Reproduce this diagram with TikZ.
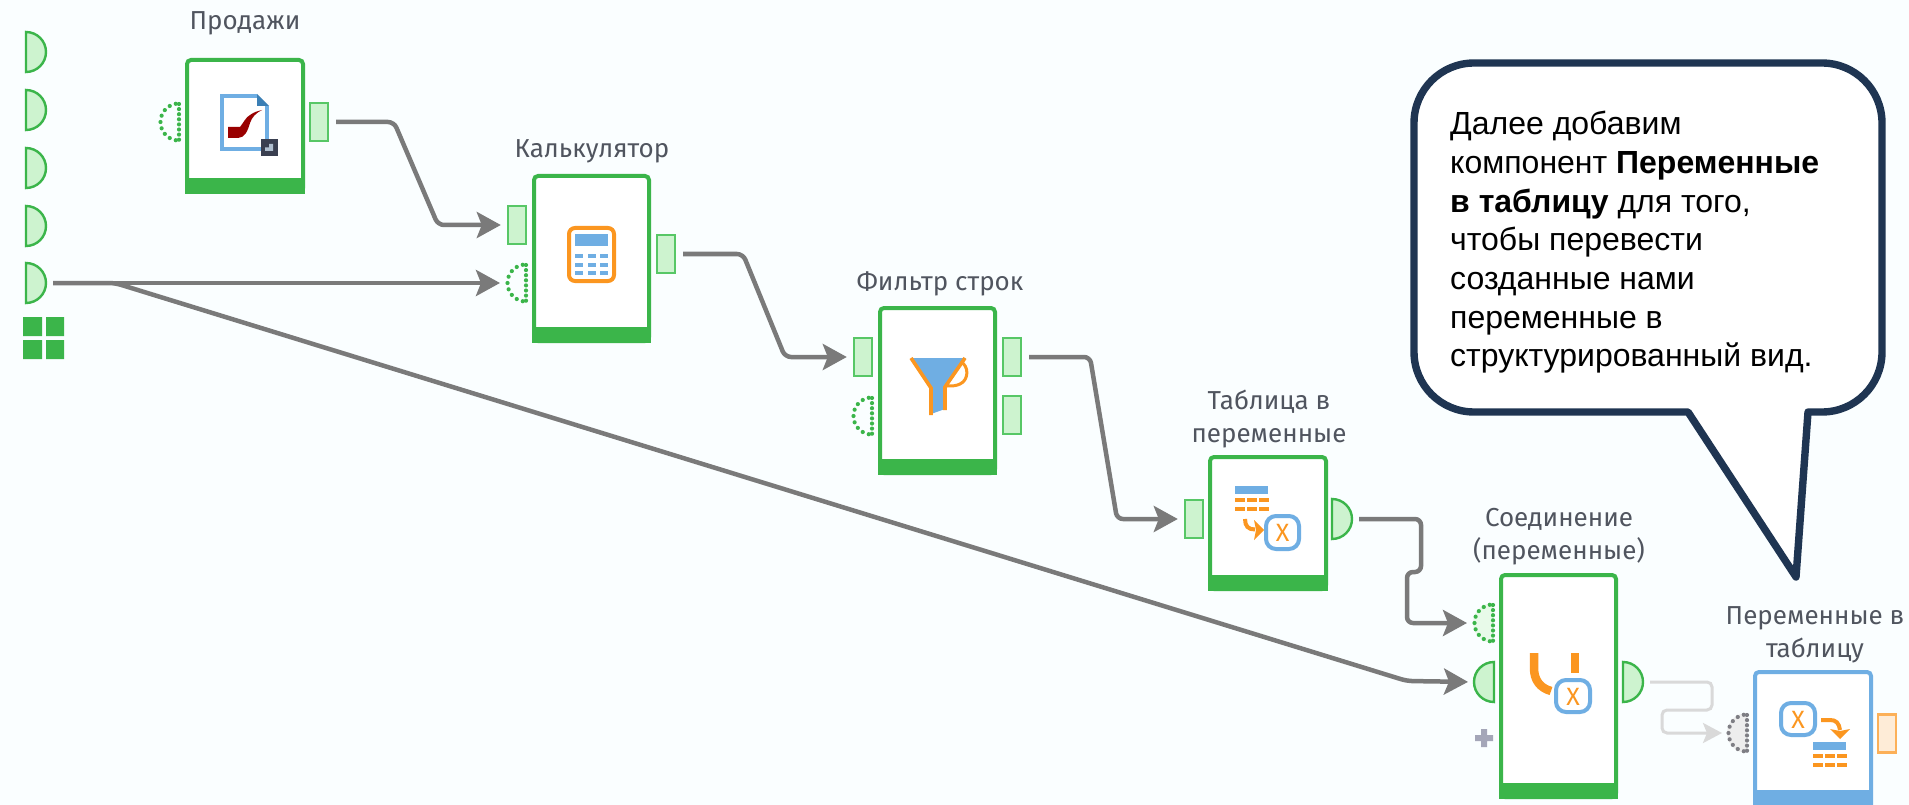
\documentclass[tikz,border=0pt]{standalone}
\usepackage{fontspec}
\setmainfont{Fira Sans}
\newfontfamily\calloutfont{Liberation Sans}
\usetikzlibrary{arrows.meta}
\definecolor{bgc}{HTML}{FAFEFF}
\definecolor{grn}{HTML}{3BB54A}
\definecolor{grnport}{HTML}{57C766}
\definecolor{pale}{HTML}{CDF3CF}
\definecolor{blu}{HTML}{6FAEE3}
\definecolor{org}{HTML}{FB9620}
\definecolor{conc}{HTML}{7A7A7A}
\definecolor{navy}{HTML}{1F3552}
\definecolor{lblc}{HTML}{50555F}
\definecolor{plusc}{HTML}{A4A6B8}
\definecolor{darkicon}{HTML}{3A3F50}
\definecolor{lighticon}{HTML}{B0BFCF}
\definecolor{foldc}{HTML}{3B7FB5}
\definecolor{pipec}{HTML}{990000}
\definecolor{dotgray}{HTML}{7E7E84}
\tikzset{
  x=1pt,y=-1pt,
  portslot/.style={minimum width=20pt,minimum height=40pt,inner sep=0pt,outer sep=0pt},
  rectport/.style={rectangle,draw=grnport,fill=pale,line width=2.4pt,minimum width=18pt,minimum height=38pt,inner sep=0pt,outer sep=1.2pt},
  orangeport/.style={rectport,draw=org!75!white,fill=org!18!white},
  solidhalf/.style={draw=grn,fill=pale,line width=2.4pt},
  wfbox/.style={rectangle,rounded corners=4pt,fill=white,draw=#1,line width=4pt,inner sep=0pt,outer sep=0pt},
  lbl/.style={text=lblc,font=\fontsize{26}{33}\selectfont,align=center,inner sep=0pt},
  conn/.style={draw=conc,line width=4.5pt,rounded corners=6pt,shorten <=7pt,shorten >=6pt,-{Stealth[length=24pt,width=26pt,inset=5pt]}},
  faintconn/.style={draw=black!15,line width=3pt,rounded corners=5pt,shorten <=7pt,shorten >=5pt,-{Stealth[length=19pt,width=20pt,inset=4pt]}},
  xbox/.style={draw=blu,line width=4pt,rounded corners=10pt,fill=white},
  xlet/.style={text=org,font=\fontsize{25}{25}\selectfont,inner sep=0pt},
}
% flat x, centre y
\newcommand\halfright[4][solidhalf]{%
  \pgfmathsetmacro\hcx{#3+10}\node[portslot] (#2) at (\hcx,#4) {};
  \path[#1] (#3,#4-20) arc[start angle=90,end angle=-90,radius=20pt] -- cycle;}
\newcommand\halfleft[4][solidhalf]{%
  \pgfmathsetmacro\hcx{#3-10}\node[portslot] (#2) at (\hcx,#4) {};
  \path[#1] (#3,#4-20) arc[start angle=90,end angle=270,radius=20pt] -- cycle;}
% dotted outline: colour, flat x, centre y
\newcommand\dotoutline[3]{%
  \foreach \da in {100,120,...,260}{\fill[#1] (#2,#3) ++(\da:18.5pt) circle[radius=2.1pt];}
  \foreach \dy in {-18,-12.9,...,18.5}{\fill[#1] (#2,#3+\dy) circle[radius=2.1pt];}}
% name, x0,y0,x1,y1 (outer), footer top, colour
\newcommand\wfnode[7]{%
  \pgfmathsetmacro\wcx{(#2+#4)/2}\pgfmathsetmacro\wcy{(#3+#5)/2}%
  \pgfmathsetmacro\wwd{#4-#2-4}\pgfmathsetmacro\wht{#5-#3-4}%
  \node[wfbox=#7,minimum width=\wwd pt,minimum height=\wht pt] (#1) at (\wcx,\wcy) {};
  \fill[#7] (#2,#6) rectangle (#4,#5);}
% dashes: x0, top y of first row
\newcommand\tabletop[2]{%
  \fill[blu] (#1,#2) rectangle (#1+33,#2+8);
  \foreach \ry in {12,21}{\foreach \rx in {0,12,24}{\fill[org] (#1+\rx,#2+\ry) rectangle (#1+\rx+9.5,#2+\ry+4);}}}
\begin{document}
\begin{tikzpicture}
\useasboundingbox (0,0) rectangle (1909,805);
\fill[bgc] (0,0) rectangle (1909,805);

% left ports
\halfright{pa}{26}{52}
\halfright{pb}{26}{110}
\halfright{pc}{26}{168}
\halfright{pd}{26}{226}
\halfright{pe}{26}{283}
\fill[grn] (23,317) rectangle (42,336) (46,317) rectangle (64,336) (23,340) rectangle (42,359) (46,340) rectangle (64,359);

% Prodazhi
\node[lbl,anchor=base] (la) at (245,30) {Продажи};
\wfnode{na}{185}{58}{305}{194}{178}{grn}
\halfleft[draw=none]{ain}{179}{122}
\dotoutline{grn}{179}{122}
\node[rectport] (aout) at (319,122) {};
\draw[blu,line width=3.6pt] (257,96) -- (222,96) -- (222,149) -- (267,149) -- (267,106);
\fill[foldc] (257,94) -- (269,106) -- (257,106) -- cycle;
\fill[pipec] (228,127) -- (240,127) .. controls (244,122) and (246,117) .. (250,115) .. controls (254,112) and (258,111) .. (262,110) .. controls (256,113) and (252,117) .. (250,123) .. controls (248,130) and (245,138) .. (238,138) -- (228,138) -- cycle;
\fill[darkicon] (261,139) rectangle (278,156);
\fill[lighticon] (273,144) -- (273,151) -- (265,151) -- (265,147.5) -- (269,147.5) -- (269,144) -- cycle;

% Kalkulyator
\node[lbl,anchor=base] (lb) at (592,158) {Калькулятор};
\wfnode{nb}{532}{174}{651}{343}{327}{grn}
\node[rectport] (bin) at (517,225) {};
\halfleft[draw=none]{bvar}{526}{283}
\dotoutline{grn}{526}{283}
\node[rectport] (bout) at (666,254) {};
\draw[org,line width=4pt,rounded corners=6pt,fill=white] (569,228) rectangle (614,281);
\fill[blu] (575,234) rectangle (608,246);
\foreach \ry in {254,262.5,271}{\foreach \rx in {575,587.5,600}{\fill[blu] (\rx,\ry) rectangle (\rx+8,\ry+4);}}

% Filtr strok
\node[lbl,anchor=base] (lc) at (940,290) {Фильтр строк};
\wfnode{nc}{878}{306}{997}{475}{459}{grn}
\node[rectport] (cin) at (863,357) {};
\halfleft[draw=none]{cvar}{872}{416}
\dotoutline{grn}{872}{416}
\node[rectport] (cout) at (1012,357) {};
\node[rectport] (cout2) at (1012,415) {};
\fill[blu] (911,358) -- (966,358) -- (945,387) -- (945,409) -- (931,414) -- (931,388) -- cycle;
\draw[org,line width=3.6pt] (911,358) -- (931,388) -- (931,415);
\draw[org,line width=3.6pt] (965,358) -- (945,387) -- (945,410);
\draw[org,line width=3pt] (961,362) .. controls (969,366) and (969,380) .. (960,384) .. controls (956,386) and (952,386) .. (947,386);

% Tablitsa v peremennye
\node[lbl,anchor=base] (ld) at (1269,442) {Таблица в\\переменные};
\wfnode{nd}{1208}{455}{1328}{591}{575}{grn}
\node[rectport] (din) at (1194,519) {};
\halfright{dout}{1332}{519}
\tabletop{1235}{486}
\draw[org,line width=4pt] (1245,519) .. controls (1245,526) and (1248,529.5) .. (1255,529.5);
\fill[org] (1264,530) -- (1254,520) -- (1256,530) -- (1254,540) -- cycle;
\draw[xbox] (1266,516) rectangle (1299,549);
\node[xlet] (xd) at (1282.5,533) {X};

% Soedinenie
\node[lbl,anchor=base] (le) at (1559,559) {Соединение\\(переменные)};
\wfnode{ne}{1499}{573}{1618}{799}{783}{grn}
\halfleft[draw=none,fill=pale!45!white]{evar}{1493}{623}
\dotoutline{grn}{1493}{623}
\halfleft{ein}{1494}{682}
\halfright{eout}{1623}{682}
\draw[org,line width=8.5pt] (1534,653) -- (1534,668) .. controls (1534,680) and (1540,688) .. (1551,691);
\fill[org] (1571,653) rectangle (1579,673);
\draw[xbox] (1556,680) rectangle (1590,712);
\node[xlet] (xe) at (1573,696.5) {X};
\fill[plusc] (1475,735) rectangle (1493,741) (1481,729) rectangle (1487,747);

% Peremennye v tablitsu
\node[lbl,anchor=base] (lf) at (1815,657) {Переменные в\\таблицу};
\wfnode{nf}{1753}{670}{1873}{812}{790}{blu}
\halfleft[draw=none,fill=black!7]{fvar}{1747}{733}
\dotoutline{dotgray}{1747}{733}
\node[rectport,orangeport] (fout) at (1887,733.5) {};
\draw[xbox] (1781,703) rectangle (1815,735);
\node[xlet] (xf) at (1798,719.5) {X};
\draw[org,line width=4pt] (1821,720) -- (1830,720) .. controls (1836,720) and (1839,723) .. (1840,730);
\fill[org] (1840,739) -- (1830,729) -- (1840,731) -- (1850,729) -- cycle;
\tabletop{1813}{742}

% connectors
\draw[conn] (aout.east) -- (394,0 |- aout.east) -- (438,0 |- bin.west) -- (bin.west);
\draw[conn] (pe.east) -- (bvar.west);
\draw[conn] (pe.east) -- (115,283) -- (1407,681) -- (ein.west);
\draw[conn] (bout.east) -- (743,0 |- bout.east) -- (785,0 |- cin.west) -- (cin.west);
\draw[conn] (cout.east) -- (1090,0 |- cout.east) -- (1117,0 |- din.west) -- (din.west);
\draw[conn] (dout.east) -- (1421,0 |- dout.east) -- (1421,572) -- (1407,572) -- (1407,0 |- evar.west) -- (evar.west);
\draw[faintconn] (eout.east) -- (1712,0 |- eout.east) -- (1712,710) -- (1662,710) -- (1662,0 |- fvar.west) -- (fvar.west);

% callout
\draw[navy,line width=7.4pt,line join=round,fill=white]
  (1474,63) -- (1822,63) arc[start angle=90,end angle=0,radius=60pt]
  -- (1882,352) arc[start angle=0,end angle=-90,radius=60pt]
  -- (1808,412) -- (1796,577) -- (1688,412) -- (1474,412)
  arc[start angle=270,end angle=180,radius=60pt]
  -- (1414,123) arc[start angle=180,end angle=90,radius=60pt] -- cycle;
\node[anchor=north west,inner sep=0pt,align=left,text=black,font=\calloutfont\fontsize{32}{38.7}\selectfont] (note) at (1450,111)
 {Далее добавим\\компонент \textbf{Переменные}\\\textbf{в таблицу} для того,\\чтобы перевести\\созданные нами\\переменные в\\структурированный вид.};
\end{tikzpicture}
\end{document}
